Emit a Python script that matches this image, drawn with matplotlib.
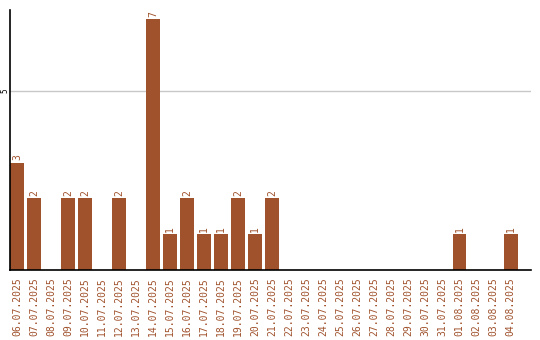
import matplotlib
matplotlib.use("Agg")
import matplotlib.pyplot as plt

dates = ["06.07.2025", "07.07.2025", "08.07.2025", "09.07.2025", "10.07.2025",
         "11.07.2025", "12.07.2025", "13.07.2025", "14.07.2025", "15.07.2025",
         "16.07.2025", "17.07.2025", "18.07.2025", "19.07.2025", "20.07.2025",
         "21.07.2025", "22.07.2025", "23.07.2025", "24.07.2025", "25.07.2025",
         "26.07.2025", "27.07.2025", "28.07.2025", "29.07.2025", "30.07.2025",
         "31.07.2025", "01.08.2025", "02.08.2025", "03.08.2025", "04.08.2025"]
counts = [3, 2, 0, 2, 2, 0, 2, 0, 7, 1, 2, 1, 1, 2, 1, 2,
          0, 0, 0, 0, 0, 0, 0, 0, 0, 0, 1, 0, 0, 1]

bar_color = "#A0522D"
W, H = 540, 340
fig = plt.figure(figsize=(W / 100, H / 100), dpi=100)
ax = fig.add_axes([10 / W, 1 - 270 / H, 521 / W, 260 / H])

x = list(range(len(dates)))
bw = 0.82
ax.bar(x, counts, width=bw, color=bar_color, zorder=2)

for xi, v in zip(x, counts):
    if v > 0:
        ax.text(xi, v + 0.07, str(v), rotation=90, ha="center", va="bottom",
                color=bar_color, fontsize=7, family="DejaVu Sans Mono")

ax.set_xlim(-bw / 2, 30.2)
ax.set_ylim(0, 7.26)
ax.set_yticks([5])
ax.set_yticklabels(["5"], rotation=90, va="center", fontsize=5.5,
                   family="DejaVu Sans Mono")
ax.tick_params(axis="y", length=0, pad=0.5)
ax.yaxis.grid(True, color="#c8c8c8", linewidth=1, zorder=0)

ax.set_xticks(x)
ax.set_xticklabels(dates, rotation=90, fontsize=7, color=bar_color,
                   family="DejaVu Sans Mono", va="top", ha="center")
ax.tick_params(axis="x", length=0, pad=5)

for s in ("top", "right"):
    ax.spines[s].set_visible(False)
ax.spines["left"].set_color("black")
ax.spines["bottom"].set_color("black")
ax.spines["left"].set_linewidth(1.2)
ax.spines["bottom"].set_linewidth(1.2)

fig.savefig("out.png", dpi=100)
